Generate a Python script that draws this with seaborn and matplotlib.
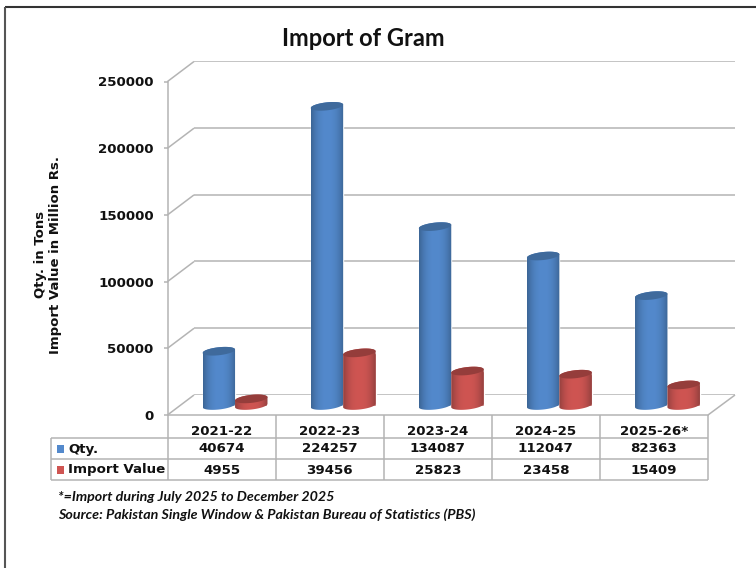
"""Import of Gram - 3D look column chart with data table"""
import numpy as np
import pandas as pd
import matplotlib.pyplot as plt
from matplotlib.patches import PathPatch, Polygon
from matplotlib.path import Path
import seaborn as sns

# Data
YEARS = ['2021-22', '2022-23', '2023-24', '2024-25', '2025-26*']
QTY = [40674, 224257, 134087, 112047, 82363]
IMPORT_VALUE = [4955, 39456, 25823, 23458, 15409]
SERIES = ['Qty.', 'Import Value']
Y_TICKS = [0, 50000, 100000, 150000, 200000, 250000]
TITLE = 'Import of Gram'
Y_LABEL = 'Qty. in Tons\nImport Value in Million Rs.'
NOTES = ['*=Import during July 2025 to December 2025',
         'Source: Pakistan Single Window & Pakistan Bureau of Statistics (PBS)']

# Colours: edge, centre, top of the cylinder
BLUE = ('#3c6595', '#5389cc', '#3f6a9c')
RED = ('#93403e', '#cf5552', '#953d3b')
GREY = '#b4b4b4'
W, H = 756, 568


def make_axes(fig, left, right, top, bottom, zorder):
    """Axes placed by pixel edges, y counted from the top of the picture"""
    ax = fig.add_axes([left / W, 1 - bottom / H, (right - left) / W, (bottom - top) / H])
    ax.set_zorder(zorder)
    ax.patch.set_visible(False)
    return ax


def draw_cylinder(px, x0, x1, y_top, y_bottom, colours):
    """Shade one column as a cylinder, slightly tilted ellipses on both ends"""
    cx, rx = (x0 + x1) / 2, (x1 - x0) / 2
    ry, tilt = 4.0, 1.7

    def arc(cy, start, stop):
        t = np.linspace(start, stop, 40)
        return np.column_stack([cx + rx * np.cos(t), cy + ry * np.sin(t) - tilt * np.cos(t)])

    body = np.vstack([arc(y_bottom, np.pi, 0), arc(y_top, 0, -np.pi)])
    edge, centre, top = [np.array(plt.matplotlib.colors.to_rgb(c)) for c in colours]
    pos = np.abs(np.linspace(-1, 1, 64)) ** 2.4
    grad = (edge[None, :] * pos[:, None] + centre[None, :] * (1 - pos[:, None]))[None, :, :]
    im = px.imshow(grad, extent=[x0, x1, y_bottom + ry + tilt, y_top - ry - tilt],
                   aspect='auto', zorder=3)
    clip = PathPatch(Path(body), transform=px.transData, facecolor='none', edgecolor='none')
    px.add_patch(clip)
    im.set_clip_path(clip)
    px.add_patch(Polygon(arc(y_top, 0, 2 * np.pi), closed=True, facecolor=top,
                         edgecolor='none', zorder=4))


def main():
    sns.set_theme(style='white')
    plt.rcParams['font.family'] = ['DejaVu Sans']
    fig = plt.figure(figsize=(W / 100, H / 100), dpi=100, facecolor='white')

    y_max = Y_TICKS[-1]
    font = dict(fontweight='bold', color='#111111')
    size = 9.6

    # Back wall: gridlines only
    back = make_axes(fig, 194, 735, 61, 395, 1)
    back.set_ylim(0, y_max)
    back.set_xticks([])
    back.set_yticks(Y_TICKS)
    back.tick_params(left=False, labelleft=False)
    back.grid(axis='y', color=GREY, lw=1.1)
    sns.despine(ax=back, left=True, bottom=True)

    # Front plane: value axis and category labels
    front = make_axes(fig, 167.5, 708, 81.5, 415, 2)
    front.set_ylim(0, y_max)
    front.set_xlim(-0.5, len(YEARS) - 0.5)
    front.set_yticks(Y_TICKS)
    front.set_xticks(range(len(YEARS)))
    front.set_xticklabels(YEARS, fontsize=size, **font)
    front.set_yticklabels(Y_TICKS, fontsize=size, **font)
    front.tick_params(axis='y', left=True, length=3, width=1.1, color=GREY, pad=7)
    front.tick_params(axis='x', bottom=False, length=0, pad=7)
    front.set_ylabel(Y_LABEL, fontsize=9.5, linespacing=1.2, **font)
    front.yaxis.set_label_coords(-0.195, 0.48)
    front.spines['left'].set_color(GREY)
    front.spines['left'].set_linewidth(1.1)
    front.spines['bottom'].set_color(GREY)
    front.spines['bottom'].set_linewidth(1.1)
    sns.despine(ax=front)

    # Columns, half way into the depth of the floor
    df = pd.DataFrame({
        'year': YEARS * 2,
        'series': [SERIES[0]] * len(YEARS) + [SERIES[1]] * len(YEARS),
        'value': QTY + IMPORT_VALUE,
    })
    bars = make_axes(fig, 181, 721.5, 72, 405.5, 3)
    sns.barplot(data=df, x='year', y='value', hue='series', hue_order=SERIES, order=YEARS,
                palette=[BLUE[1], RED[1]], width=0.6, gap=0, legend=False, ax=bars)
    bars.set_ylim(0, y_max)
    bars.set_xlim(-0.5, len(YEARS) - 0.5)
    bars.axis('off')

    # Overlay in picture pixels for the 3D look and the table
    px = make_axes(fig, 0, W, 0, H, 4)

    def line(xs, ys, color=GREY, lw=1.1):
        px.plot(xs, ys, color=color, lw=lw, solid_capstyle='butt', zorder=1)

    # Side wall diagonals and right edge of the floor
    scale = (415 - 81.5) / y_max
    for tick in Y_TICKS:
        y = 415 - tick * scale
        line([167.5, 194], [y, y - 20])
    line([708, 735], [415, 395])

    # Cylinders built from the seaborn bars
    for container, colours in zip(bars.containers, [BLUE, RED]):
        for patch in container:
            (x0, y0), (x1, y1) = bars.transData.transform(
                [(patch.get_x(), patch.get_y()),
                 (patch.get_x() + patch.get_width(), patch.get_y() + patch.get_height())])
            draw_cylinder(px, x0, x1, H - y1, H - y0, colours)

    # Data table
    col_edges = 167.5 + 108.1 * np.arange(len(YEARS) + 1)
    for y in [438, 459, 480]:
        line([51, 708], [y, y])
    line([51, 51], [438, 480])
    for x in col_edges:
        line([x, x], [415, 480])
    rows = [(SERIES[0], QTY, BLUE[1], 449), (SERIES[1], IMPORT_VALUE, RED[1], 470)]
    for name, values, colour, y in rows:
        px.add_patch(Polygon([(57, y - 4), (64, y - 4), (64, y + 4), (57, y + 4)],
                             closed=True, facecolor=colour, edgecolor='none'))
        px.text(68, y, name, fontsize=9.6, ha='left', va='center', **font)
        for i, val in enumerate(values):
            px.text((col_edges[i] + col_edges[i + 1]) / 2, y, str(val), fontsize=size,
                    ha='center', va='center', **font)

    # Title, notes and the frame of the picture
    px.text(363, 38, TITLE, fontsize=17, family='Lato', ha='center', va='center', **font)
    for note, y in zip(NOTES, [497, 515]):
        px.text(58, y, note, fontsize=10.3, family='Lato', style='italic',
                ha='left', va='center', **font)
    line([5, W], [6.5, 6.5], color='#333333', lw=1.5)
    line([5, 5], [6.5, H], color='#555555', lw=1.5)

    px.set_xlim(0, W)
    px.set_ylim(H, 0)
    px.axis('off')

    fig.savefig('out.png', dpi=100)


if __name__ == "__main__":
    main()
